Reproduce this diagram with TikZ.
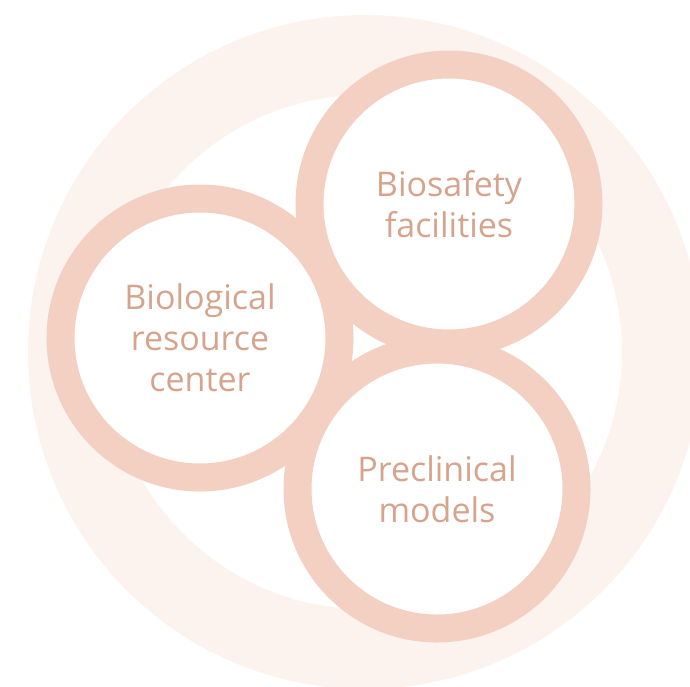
\documentclass[tikz,border=0pt]{standalone}
\usepackage{fontspec}
\setmainfont{Open Sans}
\usepackage{tikz}
\definecolor{ringpink}{HTML}{FCF3EF}
\definecolor{circpink}{HTML}{F3D0C2}
\definecolor{textpink}{HTML}{D6A48C}

\begin{document}
\begin{tikzpicture}[x=1pt,y=-1pt]
  \useasboundingbox (0,0) rectangle (690,686);
  \tikzstyle{every node}=[fill=white,draw=circpink,line width=28pt,shape=circle,
    minimum size=279pt,inner sep=0pt,align=center,text=textpink,
    font=\fontsize{34}{41}\selectfont]
  \draw[ringpink,line width=80pt] (365,352) circle[radius=297pt];
  \path (200,338) node (brc) {Biological\\resource\\center};
\path (449,204) node (bsf) {Biosafety\\facilities};
\path (437,489) node (pcm) {Preclinical\\models};
\end{tikzpicture}
\end{document}
